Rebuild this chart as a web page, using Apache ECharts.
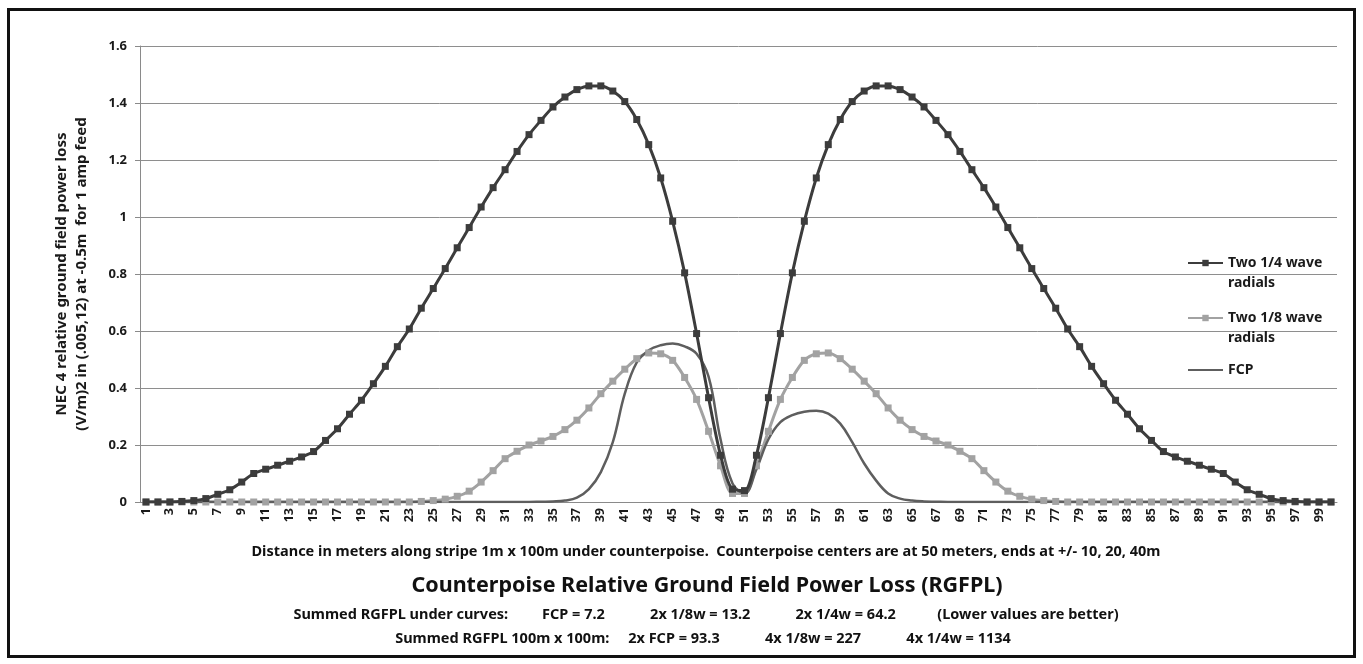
<!DOCTYPE html>
<html>
<head>
<meta charset="utf-8">
<script src="https://cdn.jsdelivr.net/npm/echarts@6/dist/echarts.min.js"></script>
<style>
  html, body { margin: 0; padding: 0; background: #fff; }
  #main { width: 1363px; height: 664px; }
</style>
</head>
<body>
<div id="main"></div>
<script>
// x 轴：沿条带的距离（米）
var distances = ['1','2','3','4','5','6','7','8','9','10','11','12','13','14','15','16','17','18','19','20',
  '21','22','23','24','25','26','27','28','29','30','31','32','33','34','35','36','37','38','39','40',
  '41','42','43','44','45','46','47','48','49','50','51','52','53','54','55','56','57','58','59','60',
  '61','62','63','64','65','66','67','68','69','70','71','72','73','74','75','76','77','78','79','80',
  '81','82','83','84','85','86','87','88','89','90','91','92','93','94','95','96','97','98','99','100'];

// Two 1/4 wave radials
var quarterWave = [0, 0, 0, 0.002, 0.005, 0.012, 0.027, 0.043, 0.07, 0.1,
  0.115, 0.129, 0.143, 0.158, 0.177, 0.216, 0.257, 0.308, 0.357, 0.415,
  0.476, 0.545, 0.607, 0.68, 0.749, 0.819, 0.892, 0.963, 1.035, 1.103,
  1.166, 1.23, 1.289, 1.339, 1.386, 1.421, 1.447, 1.46, 1.46, 1.442,
  1.405, 1.342, 1.254, 1.137, 0.985, 0.804, 0.591, 0.366, 0.164, 0.045,
  0.04, 0.164, 0.366, 0.591, 0.804, 0.985, 1.137, 1.254, 1.342, 1.405,
  1.442, 1.46, 1.46, 1.447, 1.421, 1.386, 1.339, 1.289, 1.23, 1.166,
  1.103, 1.035, 0.963, 0.892, 0.819, 0.749, 0.68, 0.607, 0.545, 0.476,
  0.415, 0.357, 0.308, 0.257, 0.216, 0.177, 0.158, 0.143, 0.129, 0.115,
  0.1, 0.07, 0.043, 0.027, 0.012, 0.005, 0.002, 0, 0, 0];

// Two 1/8 wave radials
var eighthWave = [0, 0, 0, 0, 0, 0, 0, 0, 0, 0,
  0, 0, 0, 0, 0, 0, 0, 0, 0, 0,
  0, 0, 0, 0.002, 0.005, 0.01, 0.02, 0.038, 0.07, 0.11,
  0.152, 0.178, 0.2, 0.214, 0.23, 0.254, 0.287, 0.33, 0.38, 0.424,
  0.466, 0.503, 0.523, 0.52, 0.497, 0.437, 0.36, 0.248, 0.127, 0.03,
  0.03, 0.127, 0.248, 0.36, 0.437, 0.497, 0.52, 0.523, 0.503, 0.466,
  0.424, 0.38, 0.33, 0.287, 0.254, 0.23, 0.214, 0.2, 0.178, 0.152,
  0.11, 0.07, 0.038, 0.02, 0.01, 0.005, 0.002, 0, 0, 0,
  0, 0, 0, 0, 0, 0, 0, 0, 0, 0,
  0, 0, 0, 0, 0, 0, 0, 0, 0, 0];

// FCP
var fcp = [0, 0, 0, 0, 0, 0, 0, 0, 0, 0,
  0, 0, 0, 0, 0, 0, 0, 0, 0, 0,
  0, 0, 0, 0, 0, 0, 0, 0, 0, 0,
  0, 0, 0, 0.001, 0.002, 0.005, 0.015, 0.045, 0.105, 0.21,
  0.38, 0.49, 0.532, 0.55, 0.556, 0.546, 0.52, 0.44, 0.22, 0.065,
  0.03, 0.115, 0.22, 0.28, 0.305, 0.317, 0.32, 0.31, 0.275, 0.21,
  0.135, 0.075, 0.03, 0.012, 0.005, 0.002, 0.001, 0, 0, 0,
  0, 0, 0, 0, 0, 0, 0, 0, 0, 0,
  0, 0, 0, 0, 0, 0, 0, 0, 0, 0,
  0, 0, 0, 0, 0, 0, 0, 0, 0, 0];

var seriesNames = ['Two 1/4 wave radials', 'Two 1/8 wave radials', 'FCP'];

var xTitle = 'Distance in meters along stripe 1m x 100m under counterpoise.  Counterpoise centers are at 50 meters, ends at +/- 10, 20, 40m';
var mainTitle = 'Counterpoise Relative Ground Field Power Loss (RGFPL)';
var sumLine1 = 'Summed RGFPL under curves:         FCP = 7.2            2x 1/8w = 13.2            2x 1/4w = 64.2           (Lower values are better)';
var sumLine2 = 'Summed RGFPL 100m x 100m:     2x FCP = 93.3            4x 1/8w = 227            4x 1/4w = 1134';

var body = '"Noto Sans", "Open Sans", sans-serif';

var myChart = echarts.init(document.getElementById('main'));

// 图例：两行文字，图标对齐第一行（顶部加一空行使第一行居中）
function legendFor(name, top, twoLines, hideSymbol) {
  var lg = {
    orient: 'vertical',
    left: 1187,
    top: top,
    padding: 0,
    itemWidth: 35,
    itemHeight: 8,
    itemGap: 0,
    data: [name],
    formatter: function (n) {
      return twoLines ? ' \n' + n.replace(' radials', '\nradials') : n;
    },
    textStyle: {
      fontFamily: body, fontWeight: 'bold', fontSize: 14, color: '#1a1a1a',
      lineHeight: 20
    }
  };
  if (hideSymbol) lg.itemStyle = { opacity: 0 };
  return lg;
}

var option = {
  animation: false,
  backgroundColor: '#fff',
  title: [
    { text: xTitle, left: 706, top: 544, textAlign: 'center', padding: 0,
      textStyle: { fontFamily: body, fontWeight: 'bold', fontSize: 14.5, color: '#111' } },
    { text: mainTitle, left: 707, top: 575, textAlign: 'center', padding: 0,
      textStyle: { fontFamily: body, fontWeight: 'bold', fontSize: 21.5, color: '#111' } },
    { text: sumLine1, left: 706, top: 607, textAlign: 'center', padding: 0,
      textStyle: { fontFamily: body, fontWeight: 'bold', fontSize: 14.5, color: '#111' } },
    { text: sumLine2, left: 703, top: 631, textAlign: 'center', padding: 0,
      textStyle: { fontFamily: body, fontWeight: 'bold', fontSize: 14.5, color: '#111' } }
  ],
  legend: [
    legendFor(seriesNames[0], 233, true, false),
    legendFor(seriesNames[1], 288, true, false),
    legendFor(seriesNames[2], 360, false, true)
  ],
  grid: { left: 140, right: 26, top: 46, bottom: 162, containLabel: false },
  xAxis: {
    type: 'category',
    data: distances,
    boundaryGap: true,
    axisLine: { lineStyle: { color: '#8a8a8a', width: 1 } },
    axisTick: { show: false },
    axisLabel: {
      interval: 1, rotate: 90, margin: 6,
      fontFamily: body, fontWeight: 'bold', fontSize: 12.5, color: '#1a1a1a'
    },
    splitLine: { show: false }
  },
  yAxis: {
    type: 'value',
    min: 0, max: 1.6, interval: 0.2,
    name: 'NEC 4 relative ground field power loss\n(V/m)2 in (.005,12) at -0.5m  for 1 amp feed',
    nameLocation: 'middle',
    nameRotate: 90,
    nameGap: 48,
    nameTextStyle: { fontFamily: body, fontWeight: 'bold', fontSize: 15, color: '#1a1a1a', lineHeight: 20 },
    axisLine: { show: true, lineStyle: { color: '#8a8a8a', width: 1 } },
    axisTick: { show: true, length: 5, lineStyle: { color: '#8a8a8a' } },
    axisLabel: { margin: 13, fontFamily: body, fontWeight: 'bold', fontSize: 13, color: '#1a1a1a' },
    splitLine: { lineStyle: { color: '#8e8e8e', width: 1 } }
  },
  series: [
    {
      name: seriesNames[0], type: 'line', data: quarterWave,
      smooth: 0.3, symbol: 'rect', symbolSize: 7, z: 4,
      lineStyle: { color: '#3c3c3c', width: 3 },
      itemStyle: { color: '#3c3c3c' },
      emphasis: { disabled: true }
    },
    {
      name: seriesNames[1], type: 'line', data: eighthWave,
      smooth: 0.3, symbol: 'rect', symbolSize: 7, z: 3,
      lineStyle: { color: '#a2a2a2', width: 3 },
      itemStyle: { color: '#a2a2a2' },
      emphasis: { disabled: true }
    },
    {
      name: seriesNames[2], type: 'line', data: fcp,
      smooth: 0.4, symbol: 'none', showSymbol: false, z: 3,
      lineStyle: { color: '#5e5e5e', width: 2.5 },
      itemStyle: { color: '#5e5e5e' },
      emphasis: { disabled: true }
    }
  ],
  graphic: [
    {
      type: 'rect', silent: true, z: 100,
      shape: { x: 8.5, y: 9.5, width: 1346, height: 647 },
      style: { fill: 'none', stroke: '#111', lineWidth: 3 }
    }
  ]
};

myChart.setOption(option);
</script>
</body>
</html>
